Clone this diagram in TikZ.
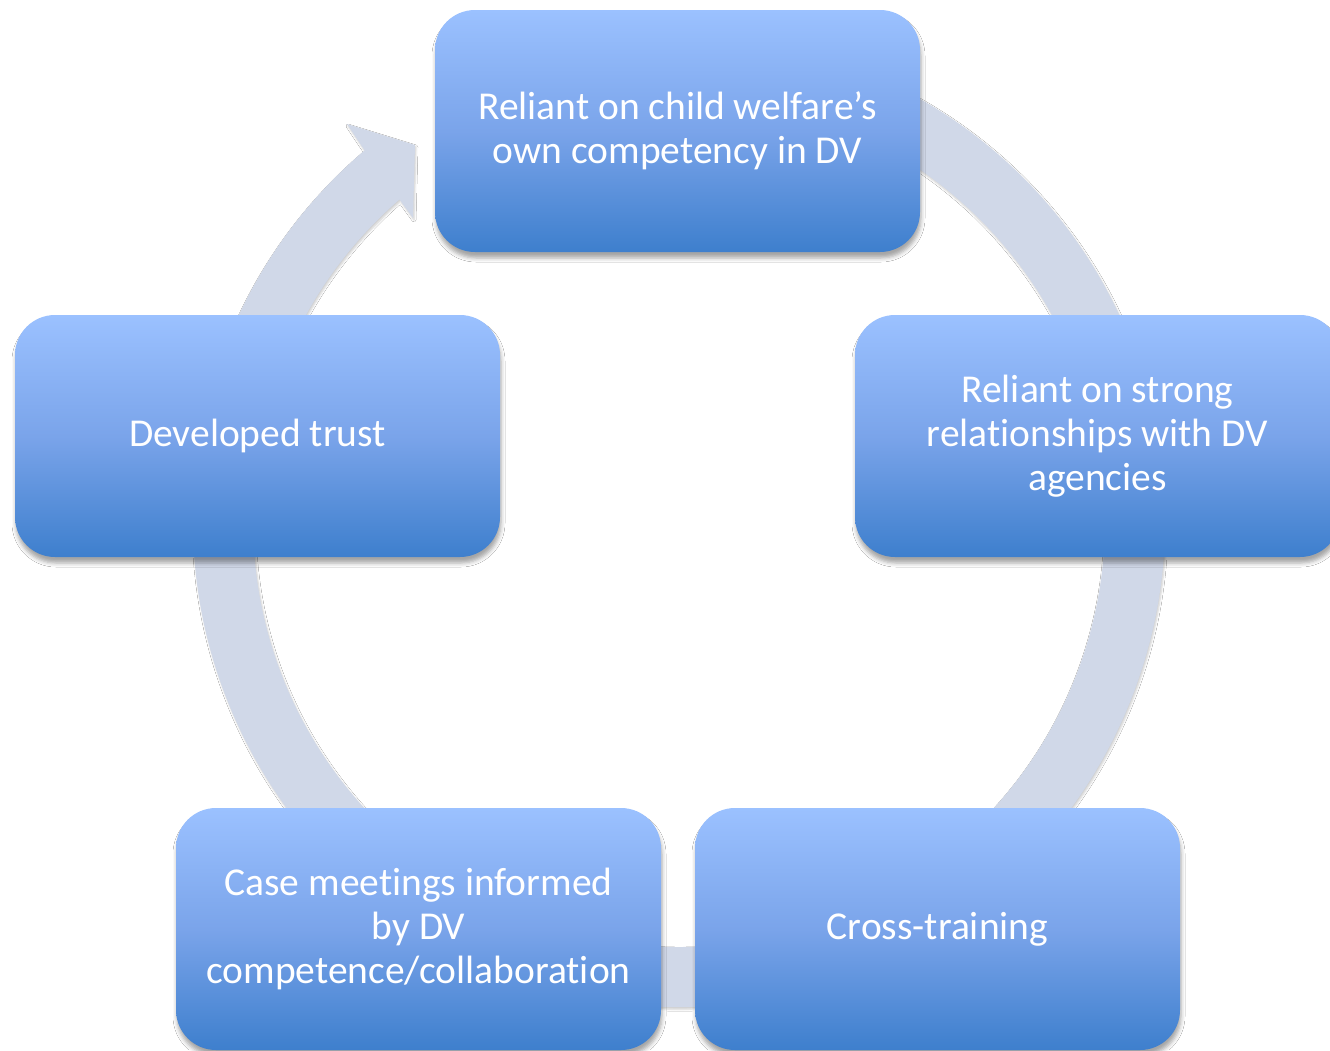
\documentclass[tikz,border=0pt]{standalone}
\usepackage{fontspec}
\setmainfont[Ligatures={NoCommon}]{Carlito}
\usetikzlibrary{shadows.blur}
\definecolor{ringcol}{RGB}{208,216,232}
\definecolor{boxtop}{RGB}{155,193,255}
\definecolor{boxmid}{RGB}{122,164,234}
\definecolor{boxbot}{RGB}{62,127,205}
\tikzset{
  cyclebox/.style={rounded corners=40pt, minimum width=485pt, minimum height=242pt,
    top color=boxtop, bottom color=boxbot, middle color=boxmid,
    text=white, align=center, font=\fontsize{39.5}{44}\selectfont, inner sep=0pt,
    blur shadow={shadow xshift=1pt, shadow yshift=-6pt, shadow blur radius=4pt, shadow opacity=35}},
  ringshape/.style={fill=ringcol,
    blur shadow={shadow xshift=1pt, shadow yshift=-2pt, shadow blur radius=2pt, shadow opacity=20}}
}
\begin{document}
\begin{tikzpicture}[x=1pt,y=1pt]
\useasboundingbox (0,0) rectangle (1330,-1050);
\clip (0,0) rectangle (1330,-1050);
\fill[white] (0,0) rectangle (1330,-1050);
% circular arrow
\begin{scope}[shift={(679,-521)}]
  \coordinate (obarb) at (-332,397);
  \coordinate (tip) at (-264,376);
  \coordinate (ibarb) at (-266,303);
  \coordinate (inotch) at (131:426);
  \path[ringshape] (110:486) arc[start angle=110, end angle=-229.7, radius=486pt]
    -- (obarb) -- (tip) -- (ibarb) -- (inotch)
    arc[start angle=-229, end angle=110, radius=426pt] -- cycle;
\end{scope}
% boxes
\node[cyclebox] (n1) at (677.5,-131) {Reliant on child welfare’s\\own competency in DV};
\node[cyclebox] (n2) at (1097.5,-436) {Reliant on strong\\relationships with DV\\agencies};
\node[cyclebox] (n3) at (937.5,-929) {Cross-training};
\node[cyclebox] (n4) at (418.5,-929) {Case meetings informed\\by DV\\competence/collaboration};
\node[cyclebox] (n5) at (257.5,-436) {Developed trust};
\end{tikzpicture}
\end{document}
